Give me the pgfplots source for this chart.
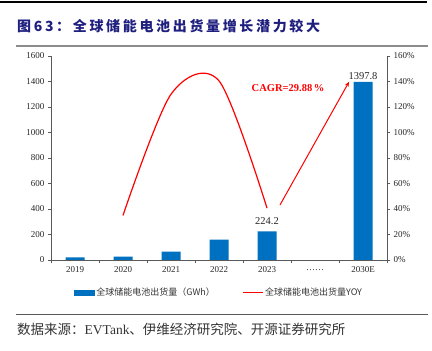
\documentclass[border=0pt]{standalone}
\usepackage{fontspec}
\usepackage{pgfplots}
\pgfplotsset{compat=1.18}
\usetikzlibrary{arrows.meta}
\setmainfont{Liberation Serif}
\newfontfamily\cjk{Noto Sans CJK SC}
\definecolor{barblue}{HTML}{0070C0}
\definecolor{titleblue}{HTML}{1F1F7F}
\definecolor{axgray}{HTML}{595959}
\begin{document}
\begin{tikzpicture}
\path[use as bounding box] (0bp,0bp) rectangle (432bp,351bp);
\fill[black] (0bp,347.5bp) rectangle (427bp,349.5bp);
\node[anchor=west, text=titleblue, inner sep=0pt, font=\cjk\bfseries\fontsize{14bp}{16bp}\selectfont\addfontfeature{LetterSpace=19}] at (17bp,325bp) {图63：全球储能电池出货量增长潜力较大};
\draw[black!45, line width=1.5bp] (16bp,305bp) -- (428bp,305bp);
\draw[axgray, line width=0.8bp] (16bp,37bp) -- (428bp,37bp);
\node[anchor=west, inner sep=0pt, text=black!80, font=\cjk\fontsize{13.5bp}{15bp}\selectfont] at (17bp,22bp) {数据来源：{\rmfamily EVTank}、伊维经济研究院、开源证券研究所};

\begin{axis}[at={(51bp,91bp)}, anchor=south west, scale only axis, width=336bp, height=204bp,
  xmin=-0.5, xmax=6.5, ymin=0, ymax=1600,
  axis x line*=bottom, axis y line*=left,
  axis line style={-, axgray, line width=0.6bp},
  xtick={0,...,6}, xticklabels={2019,2020,2021,2022,2023,{\raisebox{-4bp}{……}},2030E},
  major x tick style={draw=none},
  minor xtick={-0.5,0.5,...,6.5},
  ytick={0,200,...,1600},
  tick align=outside, major tick length=3bp, minor tick length=3.5bp,
  tick style={axgray, line width=0.6bp},
  tick label style={font=\fontsize{9bp}{10bp}\selectfont, text=black!85},
  /pgf/number format/assume math mode=true, /pgf/number format/1000 sep={},
  ybar, bar width=19bp,
  clip=false]
\addplot[fill=barblue, draw=none] coordinates {(0,20) (1,27) (2,66.3) (3,159.3) (4,224.2) (6,1397.8)};
\node[anchor=south, inner sep=2bp, font=\fontsize{10.5bp}{12bp}\selectfont, text=black!85] at (axis cs:4,260) {224.2};
\node[anchor=south, inner sep=2bp, font=\fontsize{10.5bp}{12bp}\selectfont, text=black!85] at (axis cs:6,1397.8) {1397.8};
\draw[red, line width=1bp, -{Stealth[length=5bp,width=4bp]}] (axis cs:4.27,431) -- (axis cs:5.71,1398);
\node[text=red, font=\bfseries\fontsize{10.5bp}{12bp}\selectfont] at (axis cs:4.44,1349) {CAGR=29.88\,\%};
\end{axis}

\begin{axis}[at={(51bp,91bp)}, anchor=south west, scale only axis, width=336bp, height=204bp,
  xmin=-0.5, xmax=6.5, ymin=0, ymax=160,
  axis x line=none, axis y line*=right,
  axis line style={-, axgray, line width=0.6bp},
  ytick={0,20,...,160},
  yticklabel={\pgfmathprintnumber{\tick}\%},
  tick align=outside, major tick length=3bp,
  tick style={axgray, line width=0.6bp},
  tick label style={font=\fontsize{9bp}{10bp}\selectfont, text=black!85},
  /pgf/number format/assume math mode=true,
  legend style={at={(0.5,-0.16)}, anchor=center, draw=none, fill=none, legend columns=2,
    font=\cjk\fontsize{9bp}{10bp}\selectfont, text=black!80,
    /tikz/every even column/.append style={column sep=25bp}},
  ]
\addlegendimage{legend image code/.code={\fill[barblue] (0bp,-2.5bp) rectangle (20bp,2.5bp);}}
\addlegendentry{全球储能电池出货量（GWh）}
\addplot[red, line width=1.2bp, smooth, legend image code/.code={\draw[red, line width=1.2bp] (0bp,0bp) -- (20bp,0bp);}] coordinates {(1,35) (2,130) (3,140.5) (4,40.7)};
\addlegendentry{全球储能电池出货量YOY}
\end{axis}
\end{tikzpicture}
\end{document}
